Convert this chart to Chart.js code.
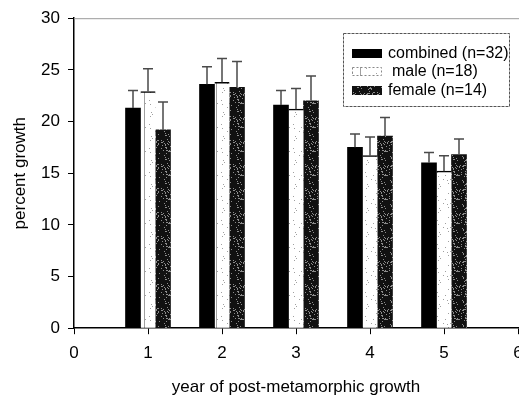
<!DOCTYPE html>
<html>
<head>
<meta charset="utf-8">
<script src="https://cdn.jsdelivr.net/npm/chart.js@4"></script>
<style>
  html, body { margin: 0; padding: 0; background: #fff; overflow: hidden; }
  #wrap { width: 519px; height: 400px; }
</style>
</head>
<body>
<div id="wrap"><canvas id="growthChart"></canvas></div>
<script>
// values
var years = [1, 2, 3, 4, 5];
var combined = [21.3, 23.6, 21.6, 17.5, 16.0];
var combinedErr = [1.7, 1.7, 1.4, 1.3, 1.0];
var male = [22.9, 23.8, 21.2, 16.7, 15.2];
var maleErr = [2.2, 2.3, 2.0, 1.8, 1.5];
var female = [19.2, 23.3, 22.0, 18.6, 16.8];
var femaleErr = [2.7, 2.5, 2.4, 1.8, 1.5];
var seriesLabels = ['combined (n=32)', 'male (n=18)', 'female (n=14)'];
var yTicks = [0, 5, 10, 15, 20, 25, 30];
var xTicks = [0, 1, 2, 3, 4, 5, 6];

// stipple textures for the male / female bars
function stipple(base, dot, every) {
    var c = document.createElement('canvas');
    c.width = 24; c.height = 24;
    var g = c.getContext('2d');
    g.fillStyle = base;
    g.fillRect(0, 0, 24, 24);
    g.fillStyle = dot;
    for (var y = 0; y < 24; y++) {
        for (var x = 0; x < 24; x++) {
            var h = ((x * 73856093) ^ (y * 19349663) ^ (x * y * 83492791)) >>> 0;
            if (h % every === 0) g.fillRect(x, y, 1, 1);
        }
    }
    return g.createPattern(c, 'repeat');
}
var maleFill = stipple('#ffffff', '#a0a0a0', 41);
var femaleFill = stipple('#111111', '#8c8c8c', 7);

function points(vals) {
    return vals.map(function(v, i) { return { x: years[i], y: v }; });
}

var errors = [combinedErr, maleErr, femaleErr];

var errorBars = {
    id: 'errorBars',
    afterDatasetsDraw: function(chart) {
        var ctx = chart.ctx;
        var yScale = chart.scales.y;
        ctx.save();
        ctx.strokeStyle = '#4a4a4a';
        ctx.lineWidth = 1.5;
        chart.data.datasets.forEach(function(ds, di) {
            var meta = chart.getDatasetMeta(di);
            meta.data.forEach(function(bar, i) {
                var top = yScale.getPixelForValue(ds.data[i].y + errors[di][i]);
                ctx.beginPath();
                ctx.moveTo(bar.x, bar.y);
                ctx.lineTo(bar.x, top);
                ctx.moveTo(bar.x - 5, top);
                ctx.lineTo(bar.x + 5, top);
                ctx.stroke();
            });
        });
        ctx.restore();
    }
};

var frameAndLegend = {
    id: 'frameAndLegend',
    afterDraw: function(chart) {
        var ctx = chart.ctx;
        var a = chart.chartArea;
        ctx.save();
        // top frame line
        ctx.strokeStyle = '#9a9a9a';
        ctx.lineWidth = 1;
        ctx.beginPath();
        ctx.moveTo(a.left, a.top + 0.5);
        ctx.lineTo(a.right + 10, a.top + 0.5);
        ctx.stroke();

        // legend box
        var bx = 343, by = 33, bw = 166, bh = 73;
        ctx.fillStyle = '#fff';
        ctx.fillRect(bx, by, bw, bh);
        ctx.strokeStyle = '#555';
        ctx.setLineDash([3, 1]);
        ctx.strokeRect(bx + 0.5, by + 0.5, bw, bh);
        ctx.setLineDash([]);
        ctx.font = '16px "Liberation Sans", Arial, sans-serif';
        ctx.textBaseline = 'middle';
        var rows = [53, 71, 90];
        chart.data.datasets.forEach(function(ds, i) {
            var ry = rows[i];
            ctx.fillStyle = ds.backgroundColor;
            ctx.fillRect(352, ry - 4, 30, 9);
            if (i === 1) {
                ctx.strokeStyle = '#888';
                ctx.setLineDash([2, 2]);
                ctx.strokeRect(352.5, ry - 3.5, 29, 8);
                ctx.setLineDash([]);
            }
            ctx.fillStyle = '#000';
            ctx.fillText(ds.label, i === 1 ? 392 : 388, ry + 1);
        });
        ctx.restore();
    }
};

var ctx = document.getElementById('growthChart').getContext('2d');
new Chart(ctx, {
    type: 'bar',
    data: {
        datasets: [
            {
                label: seriesLabels[0],
                data: points(combined),
                backgroundColor: '#000',
                borderWidth: 0
            },
            {
                label: seriesLabels[1],
                data: points(male),
                backgroundColor: maleFill,
                borderColor: '#000',
                borderWidth: { top: 1.5, left: 0, right: 0, bottom: 0 },
                borderSkipped: false
            },
            {
                label: seriesLabels[2],
                data: points(female),
                backgroundColor: femaleFill,
                borderWidth: 0
            }
        ]
    },
    options: {
        responsive: true,
        maintainAspectRatio: false,
        animation: false,
        barThickness: 15,
        layout: { padding: { left: 10, right: 1, top: 17, bottom: 0 } },
        plugins: {
            legend: { display: false },
            tooltip: { enabled: false }
        },
        scales: {
            x: {
                type: 'linear',
                min: 0,
                max: 6,
                offset: false,
                afterBuildTicks: function(s) { s.ticks = xTicks.map(function(v) { return { value: v }; }); },
                afterFit: function(s) { s.paddingLeft = 0; s.paddingRight = 0; },
                grid: { offset: false, drawOnChartArea: false, drawTicks: true, tickLength: 6, color: '#000' },
                border: { display: true, color: '#000', width: 1.5 },
                ticks: {
                    color: '#000',
                    padding: 9,
                    maxRotation: 0,
                    font: { family: '"Liberation Sans", Arial, sans-serif', size: 17 }
                },
                title: {
                    display: true,
                    text: 'year of post-metamorphic growth',
                    color: '#000',
                    padding: { top: 5, bottom: 2 },
                    font: { family: '"Liberation Sans", Arial, sans-serif', size: 17 }
                }
            },
            y: {
                min: 0,
                max: 30,
                afterBuildTicks: function(s) { s.ticks = yTicks.map(function(v) { return { value: v }; }); },
                afterFit: function(s) { s.width = 64; },
                grid: { drawOnChartArea: false, drawTicks: true, tickLength: 6, color: '#000' },
                border: { display: true, color: '#000', width: 1.5 },
                ticks: {
                    color: '#000',
                    padding: 8,
                    font: { family: '"Liberation Sans", Arial, sans-serif', size: 17 }
                },
                title: {
                    display: true,
                    text: 'percent growth',
                    color: '#000',
                    padding: { top: 0, bottom: 4 },
                    font: { family: '"Liberation Sans", Arial, sans-serif', size: 17 }
                }
            }
        }
    },
    plugins: [errorBars, frameAndLegend]
});
</script>
</body>
</html>
